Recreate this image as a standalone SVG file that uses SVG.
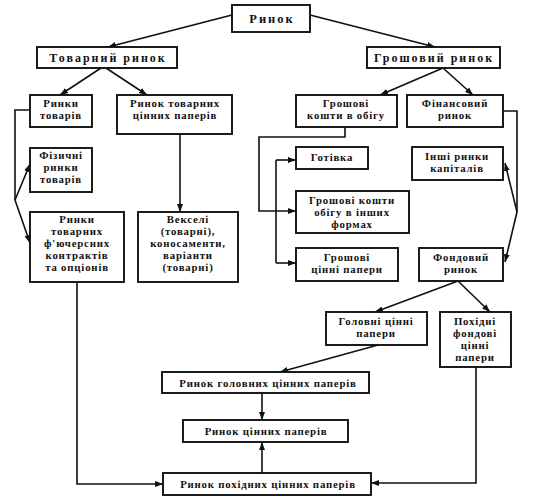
<svg xmlns="http://www.w3.org/2000/svg" width="549" height="499" viewBox="0 0 549 499">
<style>
.b{fill:#fff;stroke:#111;stroke-width:1.9}
.t{font-family:"Liberation Serif","Times New Roman",serif;font-weight:bold;font-size:10.8px;letter-spacing:0.8px;fill:#111;text-anchor:middle}
.h{font-size:12px;letter-spacing:2px}
.r{font-size:12.5px;letter-spacing:2px}
.c{fill:none;stroke:#111;stroke-width:1.6}
</style>
<defs>
<marker id="a" markerUnits="userSpaceOnUse" markerWidth="9" markerHeight="7" refX="8" refY="3" orient="auto">
<path d="M0,0 L8,3 L0,6 z" fill="#111"/>
</marker>
</defs>
<rect width="549" height="499" fill="#fff"/>
<g id="connectors">
<line class="c" x1="232" y1="15" x2="108" y2="47" marker-end="url(#a)"/>
<line class="c" x1="310" y1="15" x2="435" y2="47" marker-end="url(#a)"/>
<line class="c" x1="101" y1="68" x2="60" y2="95" marker-end="url(#a)"/>
<line class="c" x1="106" y1="68" x2="147" y2="95" marker-end="url(#a)"/>
<polyline class="c" points="30,110 15,110 15,200"/>
<line class="c" x1="15" y1="200" x2="30" y2="164" marker-end="url(#a)"/>
<line class="c" x1="15" y1="200" x2="30" y2="243" marker-end="url(#a)"/>
<line class="c" x1="180" y1="134" x2="180" y2="212" marker-end="url(#a)"/>
<line class="c" x1="443" y1="68" x2="380" y2="95" marker-end="url(#a)"/>
<line class="c" x1="443" y1="68" x2="473" y2="95" marker-end="url(#a)"/>
<polyline class="c" points="345,127 345,137 259,137 259,211 296,211" marker-end="url(#a)"/>
<line class="c" x1="276" y1="160" x2="276" y2="263"/>
<line class="c" x1="276" y1="160" x2="296" y2="160" marker-end="url(#a)"/>
<line class="c" x1="276" y1="263" x2="296" y2="263" marker-end="url(#a)"/>
<polyline class="c" points="503,111 517,111 517,212"/>
<line class="c" x1="517" y1="212" x2="505" y2="163" marker-end="url(#a)"/>
<line class="c" x1="517" y1="212" x2="505" y2="262" marker-end="url(#a)"/>
<line class="c" x1="458" y1="281" x2="375" y2="312" marker-end="url(#a)"/>
<line class="c" x1="458" y1="281" x2="490" y2="312" marker-end="url(#a)"/>
<line class="c" x1="378" y1="345" x2="280" y2="372" marker-end="url(#a)"/>
<line class="c" x1="262" y1="393" x2="262" y2="420" marker-end="url(#a)"/>
<line class="c" x1="262" y1="473" x2="262" y2="442" marker-end="url(#a)"/>
<polyline class="c" points="77,282 77,484 163,484" marker-end="url(#a)"/>
<polyline class="c" points="476,367 476,483 371,483" marker-end="url(#a)"/>
</g>
<g id="rynok"><rect class="b" x="232" y="5" width="78" height="27"/><text class="t r" x="272" y="23">Ринок</text></g>
<g id="tovarnyi"><rect class="b" x="37" y="47" width="140" height="21"/><text class="t h" x="108" y="62">Товарний ринок</text></g>
<g id="groshovyi"><rect class="b" x="367" y="47" width="133" height="21"/><text class="t h" x="434" y="62">Грошовий ринок</text></g>
<g id="rynky-tovariv"><rect class="b" x="30" y="95" width="62" height="32"/><text class="t" x="61" y="107">Ринки</text><text class="t" x="61" y="119">товарів</text></g>
<g id="rynok-tovarnykh-cp"><rect class="b" x="117" y="95" width="115" height="39"/><text class="t" x="175" y="107">Ринок товарних</text><text class="t" x="175" y="119">цінних паперів</text></g>
<g id="groshovi-koshty"><rect class="b" x="296" y="95" width="101" height="32"/><text class="t" x="346" y="107">Грошові</text><text class="t" x="346" y="119">кошти в обігу</text></g>
<g id="finansovyi"><rect class="b" x="407" y="95" width="96" height="32"/><text class="t" x="455" y="107">Фінансовий</text><text class="t" x="455" y="119">ринок</text></g>
<g id="fizychni"><rect class="b" x="30" y="148" width="62" height="44"/><text class="t" x="61" y="159">Фізичні</text><text class="t" x="61" y="171">ринки</text><text class="t" x="61" y="183">товарів</text></g>
<g id="futures"><rect class="b" x="30" y="212" width="94" height="70"/><text class="t" x="77" y="223">Ринки</text><text class="t" x="77" y="235">товарних</text><text class="t" x="77" y="247">ф'ючерсних</text><text class="t" x="77" y="259">контрактів</text><text class="t" x="77" y="271">та опціонів</text></g>
<g id="vekseli"><rect class="b" x="138" y="212" width="100" height="70"/><text class="t" x="188" y="223">Векселі</text><text class="t" x="188" y="235">(товарні),</text><text class="t" x="188" y="247">коносаменти,</text><text class="t" x="188" y="259">варіанти</text><text class="t" x="188" y="271">(товарні)</text></g>
<g id="gotivka"><rect class="b" x="296" y="147" width="72" height="22"/><text class="t" x="332" y="161">Готівка</text></g>
<g id="inshi-formy"><rect class="b" x="296" y="191" width="113" height="42"/><text class="t" x="352" y="204">Грошові кошти</text><text class="t" x="352" y="216">обігу в інших</text><text class="t" x="352" y="228">формах</text></g>
<g id="groshovi-cp"><rect class="b" x="296" y="248" width="102" height="33"/><text class="t" x="347" y="261">Грошові</text><text class="t" x="347" y="273">цінні папери</text></g>
<g id="inshi-rynky"><rect class="b" x="412" y="147" width="91" height="33"/><text class="t" x="457" y="160">Інші ринки</text><text class="t" x="457" y="172">капіталів</text></g>
<g id="fondovyi"><rect class="b" x="419" y="248" width="84" height="33"/><text class="t" x="461" y="261">Фондовий</text><text class="t" x="461" y="273">ринок</text></g>
<g id="golovni"><rect class="b" x="326" y="312" width="101" height="33"/><text class="t" x="376" y="325">Головні цінні</text><text class="t" x="376" y="337">папери</text></g>
<g id="pokhidni"><rect class="b" x="440" y="312" width="71" height="55"/><text class="t" x="475" y="325">Похідні</text><text class="t" x="475" y="337">фондові</text><text class="t" x="475" y="349">цінні</text><text class="t" x="475" y="361">папери</text></g>
<g id="rynok-golovnykh"><rect class="b" x="162" y="372" width="207" height="21"/><text class="t" x="268" y="387">Ринок головних цінних паперів</text></g>
<g id="rynok-cp"><rect class="b" x="183" y="420" width="165" height="22"/><text class="t" x="266" y="435">Ринок цінних паперів</text></g>
<g id="rynok-pokhidnykh"><rect class="b" x="163" y="473" width="208" height="22"/><text class="t" x="268" y="488">Ринок похідних цінних паперів</text></g>
</svg>
